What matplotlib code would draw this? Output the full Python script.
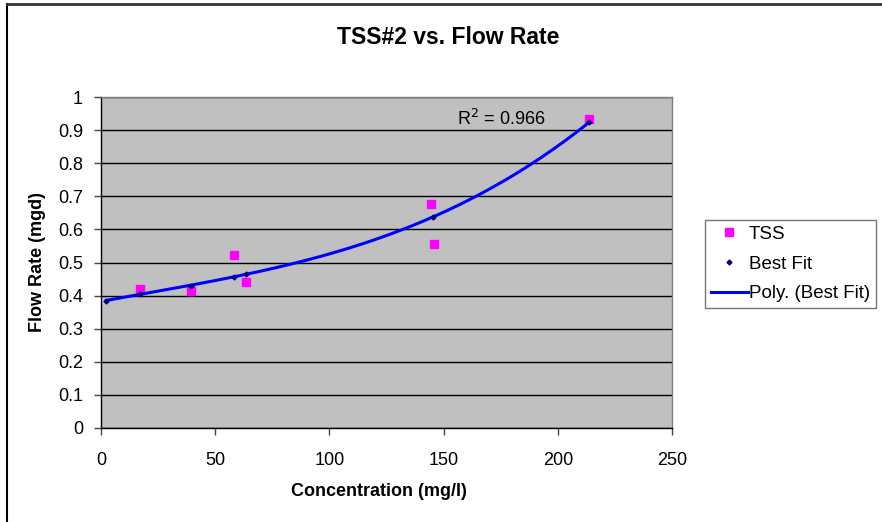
import numpy as np
import matplotlib
matplotlib.use("Agg")
import matplotlib.pyplot as plt

plt.rcParams['font.family'] = ['Liberation Sans', 'DejaVu Sans']

# TSS measurements (concentration mg/l, flow rate mgd)
tss_x = [17.0, 39.4, 58.1, 63.5, 144.6, 145.6, 213.8]
tss_y = [0.419, 0.414, 0.524, 0.440, 0.677, 0.555, 0.933]

# best fit series
fit_x = [2.4, 17.0, 39.6, 58.2, 63.5, 145.2, 213.8]
fit_y = [0.385, 0.405, 0.430, 0.456, 0.466, 0.637, 0.924]

r2_text = "R$^2$ = 0.966"
xticks = [0, 50, 100, 150, 200, 250]
yticks = [0, 0.1, 0.2, 0.3, 0.4, 0.5, 0.6, 0.7, 0.8, 0.9, 1]

fig = plt.figure(figsize=(8.82, 5.22), dpi=100)
ax = fig.add_axes([101/882, 1-428/522, (672-101)/882, (428-97)/522])
ax.set_facecolor('#C0C0C0')

# polynomial trendline of the best fit series
coef = np.polyfit(fit_x, fit_y, 3)
xs = np.linspace(min(fit_x), max(fit_x), 200)

ax.plot(tss_x, tss_y, 's', color='#FF00FF', markersize=6, label='TSS', zorder=3)
ax.plot(fit_x, fit_y, 'D', color='#000080', markersize=2.5, label='Best Fit', zorder=4)
ax.plot(xs, np.polyval(coef, xs), '-', color='#0000FF', lw=2.2, label='Poly. (Best Fit)', zorder=3)

ax.set_xlim(0, 250)
ax.set_ylim(0, 1)
ax.set_xticks(xticks)
ax.set_yticks(yticks)
ax.set_yticklabels([('%g' % v) for v in yticks])
ax.yaxis.grid(True, color='black', lw=1)
ax.set_axisbelow(True)
ax.tick_params(axis='both', labelsize=13, direction='out', length=5, width=1, color='#444444')
ax.tick_params(axis='x', pad=12)
ax.tick_params(axis='y', pad=8)

for s in ['top', 'right']:
    ax.spines[s].set_color('#808080')
    ax.spines[s].set_linewidth(1)
for s in ['left', 'bottom']:
    ax.spines[s].set_color('black')
    ax.spines[s].set_linewidth(1)

ax.text((501-101)/571, 0.965, r2_text, transform=ax.transAxes, fontsize=13, ha='center', va='top')

fig.text(448/882, 1-38/522, 'TSS#2 vs. Flow Rate', fontsize=16.5, fontweight='bold', ha='center', va='center')
fig.text(379/882, 1-492/522, 'Concentration (mg/l)', fontsize=13, fontweight='bold', ha='center', va='center')
fig.text(38/882, 1-262/522, 'Flow Rate (mgd)', fontsize=13, fontweight='bold', ha='center', va='center', rotation=90)

leg = fig.legend(loc='upper left', bbox_to_anchor=(705/882, 1-220/522), fontsize=13.5,
                 frameon=True, fancybox=False, edgecolor='#555555', borderpad=0.3,
                 handlelength=2.0, handletextpad=0.05, labelspacing=0.68, borderaxespad=0)
leg.get_frame().set_linewidth(1)

# chart border
fig.add_artist(plt.Line2D([7/882, 7/882], [0, 1-4/522], transform=fig.transFigure, color='black', lw=1.5))
fig.add_artist(plt.Line2D([7/882, 1], [1-4/522, 1-4/522], transform=fig.transFigure, color='#333333', lw=2))

fig.savefig('out.png', dpi=100)
